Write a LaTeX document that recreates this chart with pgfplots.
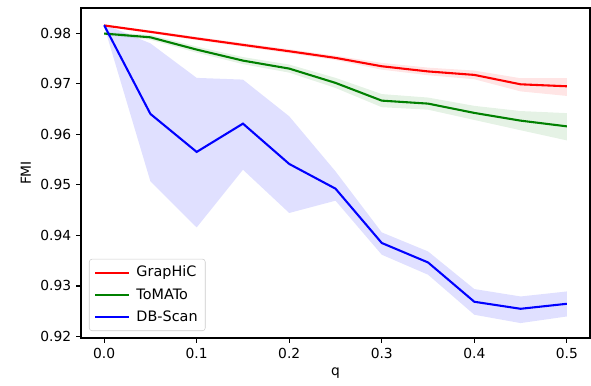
\documentclass[border=0pt]{standalone}
\usepackage{fontspec}
\setmainfont{DejaVu Sans}
\usepackage{pgfplots}
\usepackage{pgfplotstable}
\pgfplotsset{compat=1.18}

% mean lines
\pgfplotstableread{
q mean
0.00 0.98155
0.05 0.98028
0.10 0.97897
0.15 0.97770
0.20 0.97644
0.25 0.97513
0.30 0.97347
0.35 0.97245
0.40 0.97176
0.45 0.96990
0.50 0.96951
}\graphicmean

\pgfplotstableread{
q mean
0.00 0.97994
0.05 0.97920
0.10 0.97677
0.15 0.97459
0.20 0.97301
0.25 0.97018
0.30 0.96667
0.35 0.96608
0.40 0.96424
0.45 0.96271
0.50 0.96158
}\tomatomean

\pgfplotstableread{
q mean
0.00 0.98160
0.05 0.96404
0.10 0.95652
0.15 0.96212
0.20 0.95414
0.25 0.94925
0.30 0.93850
0.35 0.93465
0.40 0.92687
0.45 0.92548
0.50 0.92647
}\dbscanmean

% bands: upper bound forward, lower bound backward
\pgfplotstableread{
q y
0.00 0.98175
0.05 0.98056
0.10 0.97929
0.15 0.97805
0.20 0.97683
0.25 0.97556
0.30 0.97414
0.35 0.97320
0.40 0.97262
0.45 0.97110
0.50 0.97110
0.50 0.96760
0.45 0.96850
0.40 0.97090
0.35 0.97170
0.30 0.97280
0.25 0.97470
0.20 0.97605
0.15 0.97735
0.10 0.97865
0.05 0.98000
0.00 0.98135
}\graphicband

\pgfplotstableread{
q y
0.00 0.98023
0.05 0.97970
0.10 0.97737
0.15 0.97529
0.20 0.97381
0.25 0.97118
0.30 0.96797
0.35 0.96728
0.40 0.96564
0.45 0.96461
0.50 0.96420
0.50 0.95880
0.45 0.96081
0.40 0.96284
0.35 0.96488
0.30 0.96537
0.25 0.96918
0.20 0.97221
0.15 0.97389
0.10 0.97617
0.05 0.97870
0.00 0.97965
}\tomatoband

\pgfplotstableread{
q y
0.00 0.98180
0.05 0.97800
0.10 0.97117
0.15 0.97083
0.20 0.96357
0.25 0.95267
0.30 0.94060
0.35 0.93683
0.40 0.92939
0.45 0.92792
0.50 0.92891
0.50 0.92396
0.45 0.92265
0.40 0.92430
0.35 0.93222
0.30 0.93618
0.25 0.94687
0.20 0.94444
0.15 0.95300
0.10 0.94158
0.05 0.95069
0.00 0.98140
}\dbscanband

\definecolor{mplred}{rgb}{1,0,0}
\definecolor{mplgreen}{rgb}{0,0.5,0}
\definecolor{mplblue}{rgb}{0,0,1}

\begin{document}
\begin{tikzpicture}
\begin{axis}[
  at={(0,0)}, anchor=south west,
  scale only axis,
  width=366.48bp, height=237.6bp,
  xmin=-0.025, xmax=0.525,
  ymin=0.9197, ymax=0.9850,
  xtick={0,0.1,0.2,0.3,0.4,0.5},
  ytick={0.92,0.93,0.94,0.95,0.96,0.97,0.98},
  xticklabel style={/pgf/number format/.cd, fixed, fixed zerofill, precision=1},
  yticklabel style={/pgf/number format/.cd, fixed, fixed zerofill, precision=2},
  /pgf/number format/assume math mode=true,
  scaled ticks=false,
  tick align=outside, tick pos=left,
  major tick length=3.5bp,
  every tick/.style={black, line width=0.8bp},
  axis line style={black, line width=0.8bp},
  ticklabel style={font=\fontsize{10}{12}\selectfont},
  xlabel={q}, ylabel={FMI},
  label style={font=\fontsize{10}{12}\selectfont},
  legend cell align=left,
  legend style={
    at={(0.0157,0.0212)}, anchor=south west,
    font=\fontsize{10.4}{12}\selectfont,
    draw=black!20, rounded corners=2bp, fill=white, fill opacity=0.8, text opacity=1,
    row sep=3bp, inner xsep=3.5bp, inner ysep=3bp,
  },
  legend image code/.code={\draw[#1, line width=1.5bp] (0bp,0bp) -- (24bp,0bp); \path (27bp,0bp);},
]
% bands
\addplot[draw=none, fill=mplred, fill opacity=0.1, forget plot] table[x=q, y=y] {\graphicband} -- cycle;
\addplot[draw=none, fill=mplgreen, fill opacity=0.1, forget plot] table[x=q, y=y] {\tomatoband} -- cycle;
\addplot[draw=none, fill=mplblue, fill opacity=0.12, forget plot] table[x=q, y=y] {\dbscanband} -- cycle;
% lines
\addplot[mplred, line width=1.5bp, mark=none] table[x=q, y=mean] {\graphicmean};
\addlegendentry{GrapHiC}
\addplot[mplgreen, line width=1.5bp, mark=none] table[x=q, y=mean] {\tomatomean};
\addlegendentry{ToMATo}
\addplot[mplblue, line width=1.5bp, mark=none] table[x=q, y=mean] {\dbscanmean};
\addlegendentry{DB-Scan}
\end{axis}
\path[use as bounding box] (-58.32bp,-34.56bp) rectangle (367.2bp,243.36bp);
\end{tikzpicture}
\end{document}
